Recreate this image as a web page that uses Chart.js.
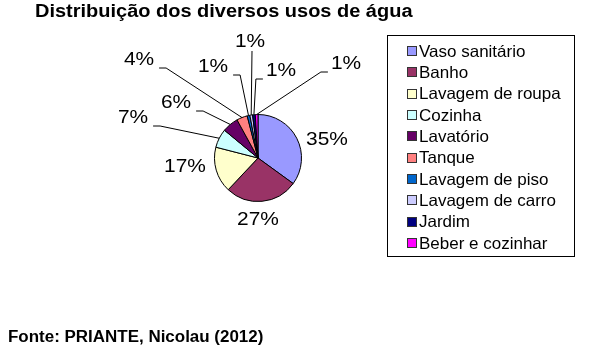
<!DOCTYPE html>
<html><head><meta charset="utf-8">
<script src="https://cdn.jsdelivr.net/npm/chart.js@4/dist/chart.umd.min.js"></script>
<style>html,body{margin:0;padding:0;background:#fff}#wrap{width:590px;height:353px;position:relative}</style>
</head><body><div id="wrap"><canvas id="c" width="590" height="353"></canvas></div>
<script>
const titleText = 'Distribuição dos diversos usos de água';
const sourceText = 'Fonte: PRIANTE, Nicolau (2012)';
const categories = ['Vaso sanitário','Banho','Lavagem de roupa','Cozinha','Lavatório','Tanque','Lavagem de piso','Lavagem de carro','Jardim','Beber e cozinhar'];
const shares = [35, 27, 17, 7, 6, 4, 1, 1, 1, 1];
const sliceColors = ['#9999FF','#993366','#FFFFCC','#CCFFFF','#660066','#FF8080','#0066CC','#CCCCFF','#000080','#FF00FF'];

// label placement relative to pie centre (layout, not data)
const labelLayout = [
  {dx: 69, dy: -18, leader: null},
  {dx: 0, dy: 62, leader: null},
  {dx: -73, dy: 9, leader: null},
  {dx: -125, dy: -40, leader: 'right'},
  {dx: -82, dy: -55, leader: 'right'},
  {dx: -119, dy: -98, leader: 'right'},
  {dx: -45, dy: -91, leader: 'right'},
  {dx: -8, dy: -116, leader: 'bottom'},
  {dx: 23, dy: -87, leader: 'left'},
  {dx: 88, dy: -94, leader: 'left'}
];

const FONT = "'Liberation Sans', Arial, sans-serif";
const STRETCH = 1.1;

function drawText(ctx, txt, x, y, font, align, sx) {
  ctx.save();
  ctx.font = font;
  ctx.fillStyle = '#000';
  ctx.textBaseline = 'middle';
  ctx.textAlign = align;
  ctx.translate(x, y);
  ctx.scale(sx, 1);
  ctx.fillText(txt, 0, 0);
  ctx.restore();
}
function textW(ctx, txt, font, sx) {
  ctx.save(); ctx.font = font; const w = ctx.measureText(txt).width * sx; ctx.restore(); return w;
}

const decor = {
  id: 'decor',
  afterDraw(chart) {
    const ctx = chart.ctx;
    // title and source
    drawText(ctx, titleText, 35, 12, 'bold 18px ' + FONT, 'left', 1.11);
    drawText(ctx, sourceText, 8, 338, 'bold 16px ' + FONT, 'left', 1.06);

    // percentage labels with leader lines
    const meta = chart.getDatasetMeta(0);
    const lf = '19px ' + FONT;
    meta.data.forEach((arc, i) => {
      const p = arc.getProps(['x','y','startAngle','endAngle','outerRadius'], true);
      const mid = (p.startAngle + p.endAngle) / 2;
      const ex = p.x + Math.cos(mid) * p.outerRadius;
      const ey = p.y + Math.sin(mid) * p.outerRadius;
      const L = labelLayout[i];
      const tx = p.x + L.dx, ty = p.y + L.dy;
      const txt = shares[i] + '%';
      drawText(ctx, txt, tx, ty, lf, 'center', STRETCH);
      const hw = textW(ctx, txt, lf, STRETCH) / 2;
      ctx.save();
      ctx.strokeStyle = '#000';
      ctx.lineWidth = 1;
      ctx.beginPath();
      if (L.leader === 'right') {
        const sx = tx + hw + 5, sy = ty + 8;
        ctx.moveTo(sx, sy); ctx.lineTo(sx + 7, sy); ctx.lineTo(ex, ey);
      } else if (L.leader === 'left') {
        const sx = tx - hw - 3, sy = ty + 8;
        ctx.moveTo(sx, sy); ctx.lineTo(sx - 7, sy); ctx.lineTo(ex, ey);
      } else if (L.leader === 'bottom') {
        ctx.moveTo(tx + 2, ty + 9); ctx.lineTo(ex, ey);
      }
      ctx.stroke();
      ctx.restore();
    });

    // legend
    ctx.save();
    ctx.strokeStyle = '#000';
    ctx.lineWidth = 1;
    ctx.strokeRect(387.5, 35.5, 187, 221);
    const lgf = '16.5px ' + FONT;
    categories.forEach((c, i) => {
      const y = 51 + i * 21.35;
      ctx.fillStyle = sliceColors[i];
      ctx.fillRect(407, Math.round(y - 5), 10, 10);
      ctx.strokeStyle = '#333';
      ctx.strokeRect(407.5, Math.round(y - 5) + 0.5, 9, 9);
      drawText(ctx, c, 419, y + 1, lgf, 'left', 1.03);
    });
    ctx.restore();
  }
};

new Chart(document.getElementById('c'), {
  type: 'pie',
  data: {
    labels: categories,
    datasets: [{
      data: shares,
      backgroundColor: sliceColors,
      borderColor: '#000',
      borderWidth: 1
    }]
  },
  options: {
    responsive: false,
    animation: false,
    layout: {padding: {left: 214, right: 288, top: 114, bottom: 151}},
    plugins: {legend: {display: false}, tooltip: {enabled: false}, title: {display: false}}
  },
  plugins: [decor]
});
</script></body></html>
